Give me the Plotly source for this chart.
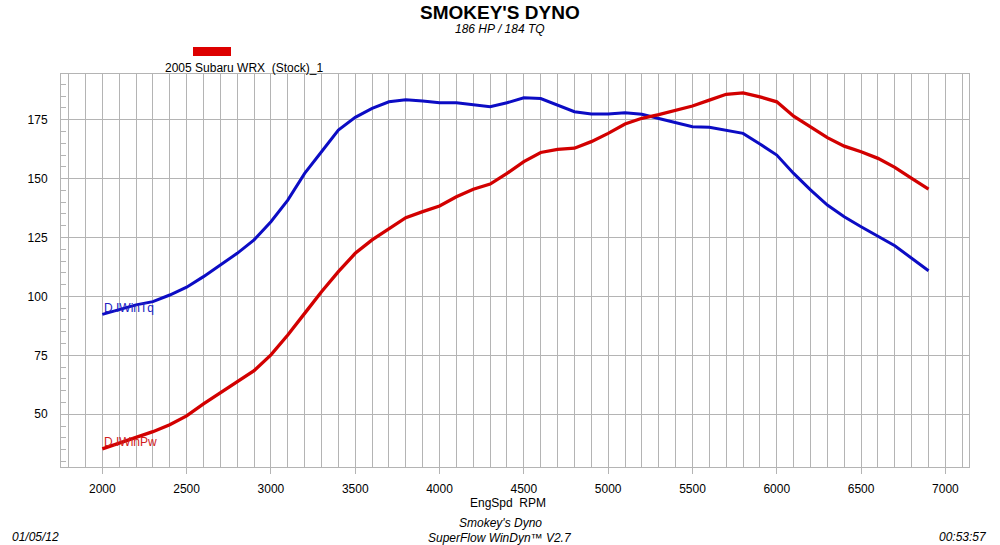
import plotly.graph_objects as go

rpm = list(range(2000, 7000, 100))
torque = [92.4, 94.3, 96.4, 97.8, 100.6, 103.9, 108.4, 113.3, 118.3, 124.0,
          131.7, 140.9, 152.2, 161.4, 170.6, 176.0, 179.8, 182.6, 183.5, 182.9,
          182.2, 182.2, 181.2, 180.5, 182.2, 184.3, 184.0, 181.2, 178.4, 177.4,
          177.4, 178.0, 177.3, 175.5, 173.9, 172.0, 171.8, 170.6, 169.2, 164.7,
          160.0, 152.2, 145.2, 138.8, 133.8, 129.6, 125.6, 121.5, 116.2, 110.9]
power = [35.3, 37.7, 40.2, 42.6, 45.5, 49.3, 54.4, 59.2, 63.8, 68.5,
         75.2, 83.6, 92.8, 102.0, 110.5, 118.3, 124.0, 128.9, 133.4, 136.0,
         138.4, 142.3, 145.5, 147.7, 152.2, 157.2, 161.1, 162.4, 162.9, 165.7,
         169.2, 173.2, 175.6, 177.2, 179.1, 180.8, 183.3, 185.8, 186.4, 184.7,
         182.6, 176.5, 172.0, 167.4, 163.8, 161.4, 158.6, 154.8, 150.1, 145.5]

x_ticks = [2000, 2500, 3000, 3500, 4000, 4500, 5000, 5500, 6000, 6500, 7000]
y_ticks = [50, 75, 100, 125, 150, 175]

FONT = "Arial, Liberation Sans, sans-serif"
GRID = "#b4b4b4"
BLUE = "#0c0cc4"
RED = "#d20000"

fig = go.Figure()
fig.add_trace(go.Scatter(x=rpm, y=torque, mode="lines",
                         line=dict(color=BLUE, width=3), showlegend=False))
fig.add_trace(go.Scatter(x=rpm, y=power, mode="lines",
                         line=dict(color=RED, width=3.3), showlegend=False))

fig.update_layout(
    width=1000, height=545,
    margin=dict(l=61, r=31, t=74, b=78),
    paper_bgcolor="white", plot_bgcolor="white",
    font=dict(family=FONT, size=12, color="black"),
    showlegend=False,
)
fig.update_xaxes(
    range=[1755, 7140], tickvals=x_ticks, ticktext=[str(v) for v in x_ticks],
    showgrid=True, gridcolor=GRID, gridwidth=1,
    ticks="outside", ticklen=6, tickcolor=GRID, ticklabelstandoff=5,
    minor=dict(dtick=100, tick0=0, showgrid=True, gridcolor=GRID, gridwidth=1, ticks=""),
    showline=True, linecolor=GRID, linewidth=1, mirror=True,
    zeroline=False, tickfont=dict(size=12, color="black"),
)
fig.update_yaxes(
    range=[27.6, 194.4], tickvals=y_ticks, ticktext=[str(v) for v in y_ticks],
    showgrid=True, gridcolor=GRID, gridwidth=1,
    ticks="outside", ticklen=10, tickcolor="white",
    minor=dict(dtick=5, tick0=0, showgrid=False, ticks="inside", ticklen=5, tickcolor=GRID),
    showline=True, linecolor=GRID, linewidth=1, mirror=True,
    zeroline=False, tickfont=dict(size=12, color="black"),
)

def px_x(px):
    return (px - 61) / 908.0

def px_y(py):
    return (467 - py) / 393.0

ann = [
    dict(text="<b>SMOKEY'S DYNO</b>", x=px_x(500), y=px_y(12), size=19, style="normal", xanchor="center"),
    dict(text="186 HP / 184 TQ", x=px_x(500), y=px_y(29), size=12, style="italic", xanchor="center"),
    dict(text="2005 Subaru WRX  (Stock)_1", x=px_x(163), y=px_y(68), size=12, style="normal", xanchor="left"),
    dict(text="EngSpd  RPM", x=px_x(508), y=px_y(503), size=12, style="normal", xanchor="center"),
    dict(text="Smokey's Dyno", x=px_x(500), y=px_y(523), size=12, style="italic", xanchor="center"),
    dict(text="SuperFlow WinDyn™ V2.7", x=px_x(500), y=px_y(538), size=12, style="italic", xanchor="center"),
    dict(text="01/05/12", x=px_x(10), y=px_y(537), size=12, style="italic", xanchor="left"),
    dict(text="00:53:57", x=px_x(989), y=px_y(537), size=12, style="italic", xanchor="right"),
]
for a in ann:
    fig.add_annotation(text=a["text"], x=a["x"], y=a["y"], xref="paper", yref="paper",
                       xanchor=a["xanchor"], yanchor="middle", showarrow=False,
                       font=dict(family=FONT, size=a["size"], color="black", style=a["style"]))

fig.add_annotation(text="D.IWinTq", x=rpm[0], y=95.1, xanchor="left", yanchor="middle",
                   showarrow=False, font=dict(family=FONT, size=12, color="#2020c0"))
fig.add_annotation(text="D.IWinPw", x=rpm[0], y=38.2, xanchor="left", yanchor="middle",
                   showarrow=False, font=dict(family=FONT, size=12, color="#d02020"))

fig.add_shape(type="rect", xref="paper", yref="paper",
              x0=px_x(193), x1=px_x(231), y0=px_y(56), y1=px_y(47),
              fillcolor="#dd0000", line=dict(width=0))

fig.write_html("out.html")
